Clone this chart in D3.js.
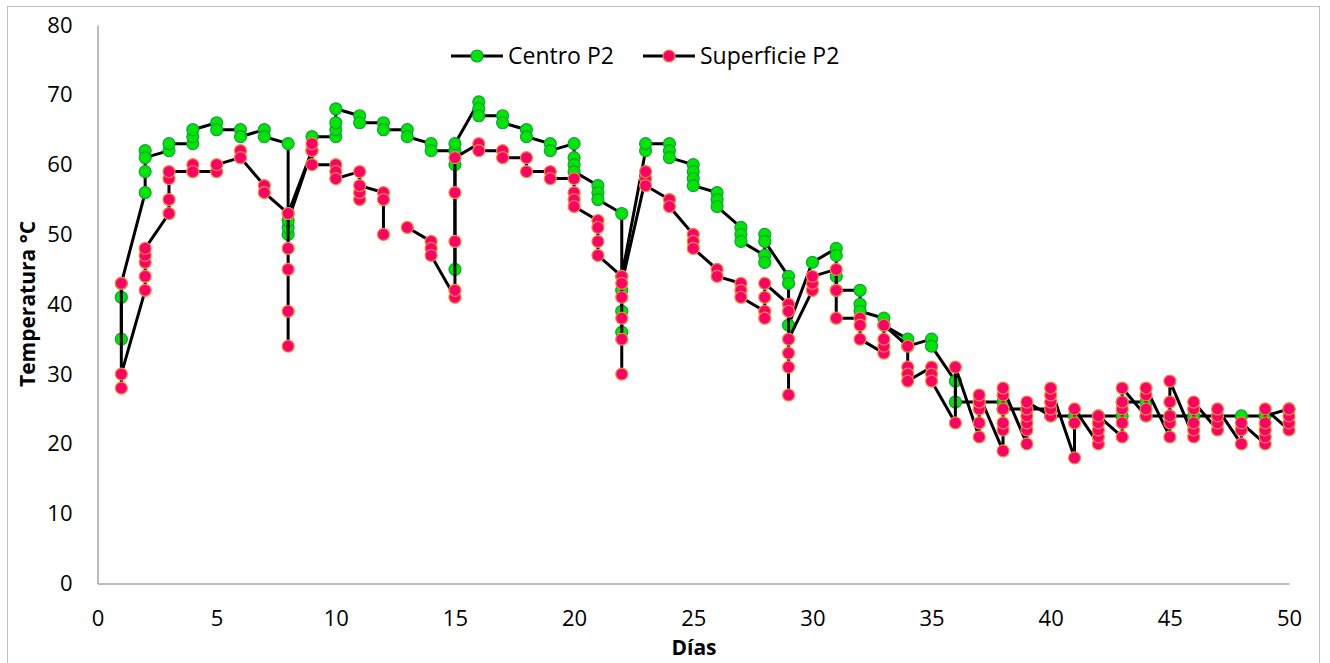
<!DOCTYPE html>
<html>
<head>
<meta charset="utf-8">
<script src="https://cdn.jsdelivr.net/npm/d3@7"></script>
<style>
  body { margin: 0; background: #fff; }
  text { font-family: "Open Sans", "Noto Sans", sans-serif; }
</style>
</head>
<body>
<script>
// days (x) and the readings taken on each day, in reading order
var dias = [1,2,3,4,5,6,7,8,9,10,11,12,13,14,15,16,17,18,19,20,21,22,23,24,25,
            26,27,28,29,30,31,32,33,34,35,36,37,38,39,40,41,42,43,44,45,46,47,48,49,50];

var centroP2 = [
  [35,41,43],[56,59,62,61],[62,63],[63,64,65],[66,65],[65,64],[65,64],[63,50,51,52],
  [62,64],[64,65,66,68],[67,66],[66,65],[65,64],[63,62],[62,60,45,63],[69,68,67],
  [67,66],[65,64],[63,62],[63,61,60,59],[57,56,55],[53,36,39,42,44],[62,63],[63,62,61],
  [60,59,58,57],[56,55,54],[51,50,49],[47,46,50,49],[44,43,37],[46],[48,47,44,42],
  [42,40,39],[38,37],[35,34],[35,34],[29,26],[26],[26,25],[25],[25,24],[24],[24],
  [24,26],[26,24],[24],[24],[24],[24],[24],[25]
];

// null = missing reading (line is broken there)
var superficieP2 = [
  [43,28,30],[42,44,46,47,48],[53,55,58,59],[59,60,59],[59,60],[61,62,61],[57,56],
  [53,34,39,45,48,53],[62,63,60],[60,59,58],[59,55,56,57],[56,55,50,null],[51],[49,48,47],
  [41,42,49,56,61],[63,62],[62,61],[61,59],[59,58],[58,56,55,54],[52,51,49,47],
  [44,30,35,38,41,43],[58,59,57],[55,54],[50,49,48],[45,44],[43,42,41],[39,38,41,43],
  [40,39,27,31,33,35],[42,43,44],[45,42,38],[38,37,35],[33,34,35,37],[34,31,30,29],
  [31,30,29],[23,31],[21,23,25,26,27],[19,22,23,25,27,28],[20,22,23,24,25,26],
  [24,25,26,27,28],[18,23,25],[20,21,22,23,24],[21,23,25,26,28],[24,25,27,28],
  [21,23,24,26,29],[21,22,23,25,26],[22,23,24,25],[20,22,23],[20,21,22,23,25],[22,23,24,25]
];

var xTicks = [0,5,10,15,20,25,30,35,40,45,50];
var yTicks = [0,10,20,30,40,50,60,70,80];

var series = [
  {name: "Centro P2", data: centroP2, fill: "#00e600", stroke: "#10a040"},
  {name: "Superficie P2", data: superficieP2, fill: "#ff0066", stroke: "#f08a3c"}
];

var width = 1330, height = 663;

var svg = d3.select("body").append("svg")
    .attr("width", width)
    .attr("height", height);

// chart frame
svg.append("rect")
    .attr("x", 7.5).attr("y", 6.5)
    .attr("width", 1312).attr("height", 670)
    .attr("fill", "none")
    .attr("stroke", "#bfbfbf");

var x = d3.scaleLinear().domain([0, 50]).range([97.5, 1289]);
var y = d3.scaleLinear().domain([0, 80]).range([583.5, 25]);

// axes, no tick marks like excel
var xAxis = svg.append("g")
    .attr("transform", "translate(0," + y(0) + ")")
    .call(d3.axisBottom(x).tickValues(xTicks).tickSize(0).tickPadding(27));
var yAxis = svg.append("g")
    .attr("transform", "translate(" + x(0) + ",0)")
    .call(d3.axisLeft(y).tickValues(yTicks).tickSize(0).tickPadding(25));

[xAxis, yAxis].forEach(function(a){
  a.select(".domain").attr("stroke", "#a6a6a6").attr("stroke-width", 1.5);
  a.selectAll("text")
    .style("font-size", "22px")
    .style("fill", "#000");
});
xAxis.selectAll("text").attr("dy", "0.71em");

svg.append("text")
    .attr("x", 694).attr("y", 655)
    .attr("text-anchor", "middle")
    .style("font-size", "21px").style("font-weight", "bold")
    .text("Días");

svg.append("text")
    .attr("transform", "translate(35,304) rotate(-90)")
    .attr("text-anchor", "middle")
    .style("font-size", "21px").style("font-weight", "bold")
    .text("Temperatura °C");

// flatten the day groups into points
function toPoints(groups) {
  var pts = [];
  groups.forEach(function(vals, i){
    vals.forEach(function(v){ pts.push({dia: dias[i], t: v}); });
  });
  return pts;
}

var line = d3.line()
    .defined(function(d){ return d.t != null; })
    .x(function(d){ return x(d.dia); })
    .y(function(d){ return y(d.t); });

series.forEach(function(s){
  var pts = toPoints(s.data);
  svg.append("path")
      .datum(pts)
      .attr("d", line)
      .attr("fill", "none")
      .attr("stroke", "#000")
      .attr("stroke-width", 3)
      .attr("stroke-linejoin", "round");
  svg.append("g").selectAll("circle")
      .data(pts.filter(function(d){ return d.t != null; }))
      .enter().append("circle")
      .attr("cx", function(d){ return x(d.dia); })
      .attr("cy", function(d){ return y(d.t); })
      .attr("r", 6)
      .attr("fill", s.fill)
      .attr("stroke", s.stroke)
      .attr("stroke-width", 1.2);
});

// legend
var legendX = [451, 643];
series.forEach(function(s, i){
  var g = svg.append("g").attr("transform", "translate(" + legendX[i] + ",56)");
  g.append("line")
      .attr("x1", 0).attr("x2", 52)
      .attr("stroke", "#000").attr("stroke-width", 3);
  g.append("circle")
      .attr("cx", 26).attr("r", 6)
      .attr("fill", s.fill).attr("stroke", s.stroke).attr("stroke-width", 1.2);
  g.append("text")
      .attr("x", 57).attr("dy", "0.35em")
      .style("font-size", "23px")
      .text(s.name);
});
</script>
</body>
</html>
